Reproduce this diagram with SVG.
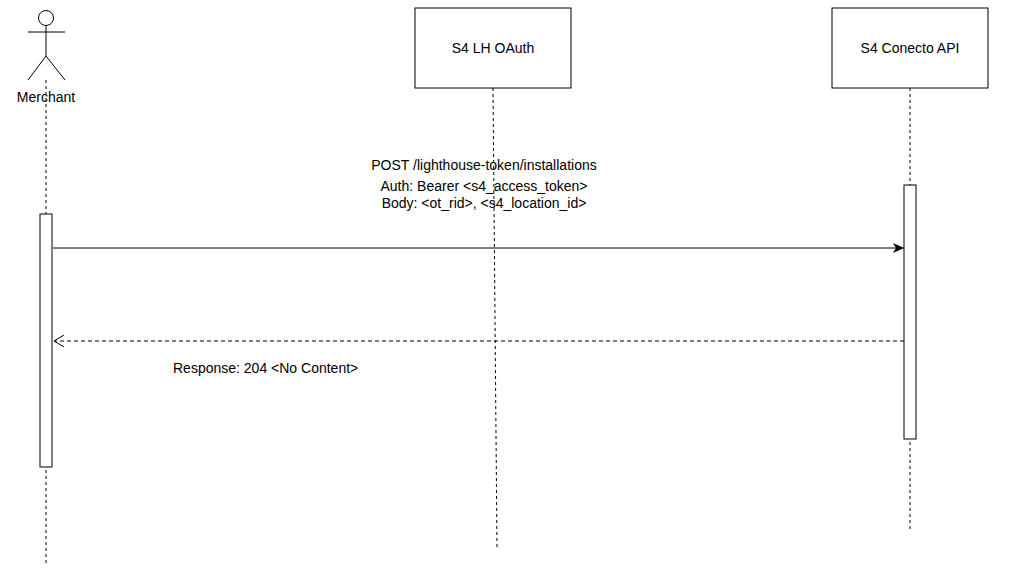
<svg xmlns="http://www.w3.org/2000/svg" width="1032" height="580" viewBox="0 0 1032 580">
<style>
text{font-family:"Liberation Sans",Arial,sans-serif;font-size:14px;fill:#000}
.ln{stroke:#000;stroke-width:1;fill:none}
.life{stroke:#000;stroke-width:1;stroke-dasharray:3,3;fill:none}
.box{fill:#fff;stroke:#000;stroke-width:1}
</style>
<defs>
<marker id="fill" markerWidth="12" markerHeight="10" refX="11" refY="5" orient="auto" markerUnits="userSpaceOnUse"><path d="M0,0 L11,5 L0,10 L3,5 Z" fill="#000"/></marker>
<marker id="open" markerWidth="12" markerHeight="12" refX="11" refY="6" orient="auto" markerUnits="userSpaceOnUse"><path d="M1,0 L11,6 L1,12" fill="none" stroke="#000"/></marker>
</defs>
<rect width="1032" height="580" fill="#fff"/>
<g id="merchant">
<line class="life" x1="46" y1="80" x2="46" y2="565"/>
<circle class="ln" cx="46" cy="18" r="7.5"/>
<path class="ln" d="M46,25.5 V56 M28,32 H65 M28,80 L46,56 L65,80"/>
<text x="46" y="102" text-anchor="middle">Merchant</text>
<rect class="box" x="40" y="214" width="12" height="253"/>
</g>
<g id="oauth">
<line class="life" x1="493" y1="88" x2="497" y2="548"/>
<rect class="box" x="415" y="8" width="156" height="80"/>
<text x="493" y="53" text-anchor="middle">S4 LH OAuth</text>
</g>
<g id="conecto">
<line class="life" x1="910" y1="88" x2="910" y2="530"/>
<rect class="box" x="832" y="8" width="156" height="80"/>
<text x="910" y="53" text-anchor="middle">S4 Conecto API</text>
<rect class="box" x="904" y="185" width="12" height="254"/>
</g>
<g id="connectors">
<line class="ln" x1="53" y1="248" x2="904" y2="248" marker-end="url(#fill)"/>
<text x="484" y="170" text-anchor="middle">POST /lighthouse-token/installations</text>
<text x="484" y="191" text-anchor="middle">Auth: Bearer &lt;s4_access_token&gt;</text>
<text x="484" y="208" text-anchor="middle">Body: &lt;ot_rid&gt;, &lt;s4_location_id&gt;</text>
<line class="ln" x1="904" y1="341" x2="54" y2="341" stroke-dasharray="4,3" marker-end="url(#open)"/>
<text x="173" y="373">Response: 204 &lt;No Content&gt;</text>
</g>
</svg>
